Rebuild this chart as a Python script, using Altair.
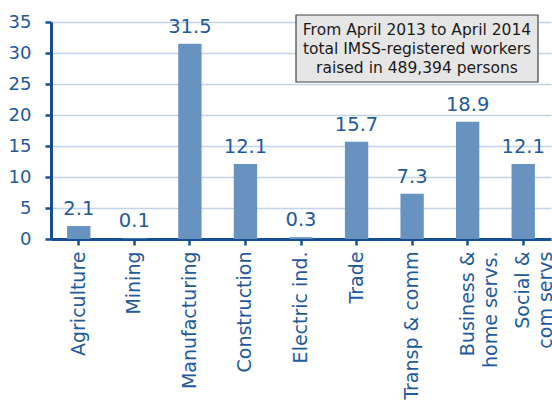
import altair as alt
import pandas as pd

categories = ["Agriculture", "Mining", "Manufacturing", "Construction", "Electric ind.",
              "Trade", "Transp & comm", "Business &|home servs.", "Social &|com servs"]
values = [2.1, 0.1, 31.5, 12.1, 0.3, 15.7, 7.3, 18.9, 12.1]
y_ticks = [0, 5, 10, 15, 20, 25, 30, 35]
note_lines = ["From April 2013 to April 2014", "total IMSS-registered workers", "raised in 489,394 persons"]

df = pd.DataFrame({"cat": categories, "val": values})

AXIS = "#144f93"
LABEL = "#1f5a9b"
FONT = "DejaVu Sans"

x = alt.X("cat:N", sort=categories, title=None,
          scale=alt.Scale(paddingInner=0.58, paddingOuter=0.29),
          axis=alt.Axis(labelAngle=270, labelAlign="right", labelBaseline="middle",
                        labelExpr="split(datum.value, '|')", labelLineHeight=23,
                        labelFont=FONT, labelFontSize=19, labelColor=LABEL,
                        labelPadding=6, tickSize=6, tickWidth=2.5, tickColor=AXIS,
                        domainColor=AXIS, domainWidth=3, grid=False, labelLimit=300,
                        labelOverlap=False))
y = alt.Y("val:Q", title=None,
          scale=alt.Scale(domain=[0, 35], nice=False),
          axis=alt.Axis(values=y_ticks, labelFont=FONT, labelFontSize=18,
                        labelColor=LABEL, labelPadding=14, tickSize=6, tickWidth=2.5,
                        tickColor=AXIS, domainColor=AXIS, domainWidth=3, labelOverlap=False,
                        grid=True, gridColor="#c3d4e8", gridWidth=1.5))

bars = alt.Chart(df).mark_bar(color="#6892bf").encode(x=x, y=y)
labels = alt.Chart(df).mark_text(font=FONT, fontSize=19.5, color=LABEL, baseline="alphabetic",
                                 dy=-11).encode(x=x, y=y,
                                               text=alt.Text("val:Q", format=".1f"))

note_df = pd.DataFrame({"t": [note_lines]})
box = alt.Chart(note_df).mark_rect(fill="#e6e6e6", stroke="#444444", strokeWidth=1.2).encode(
    x=alt.value(245), x2=alt.value(487), y=alt.value(-7), y2=alt.value(60))
note = alt.Chart(note_df).mark_text(font=FONT, fontSize=15.5, color="#1a1a1a", align="center",
                                    baseline="middle", lineHeight=19).encode(
    x=alt.value(366), y=alt.value(8), text="t")

chart = alt.layer(bars, labels, box, note).properties(
    width=500, height=217,
    autosize=alt.AutoSizeParams(type="none"),
    padding={"left": 51, "top": 22, "right": 1, "bottom": 163},
).configure_view(stroke=None)

chart.save("out.html", embed_options={"renderer": "svg", "actions": False})
